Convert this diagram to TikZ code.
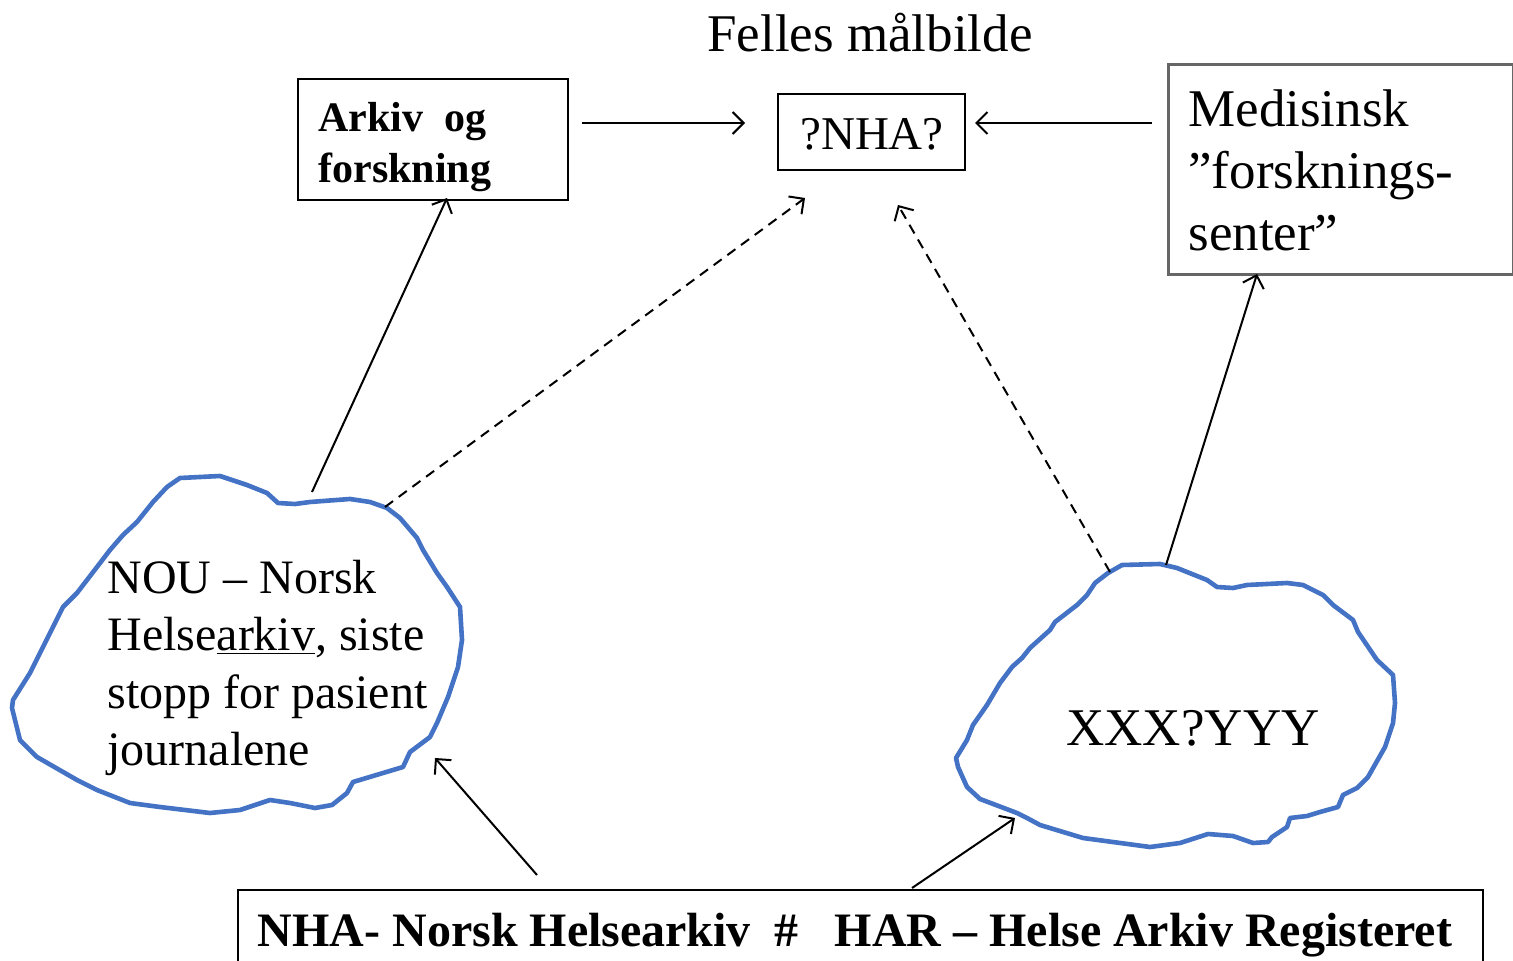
\documentclass[tikz,border=0pt]{standalone}
\usepackage{fontspec}
\setmainfont{Liberation Serif}
\usetikzlibrary{arrows.meta}
\definecolor{cloudblue}{RGB}{68,114,196}
\newcommand\fsbig{\fontsize{26.5}{28.75}\selectfont}
\newcommand\fscloud{\fontsize{24}{28.75}\selectfont}
\newcommand\fsmed{\fontsize{26.5}{31}\selectfont}
\newcommand\fsbox{\fontsize{21}{25.5}\selectfont\bfseries}
\begin{document}
\begin{tikzpicture}[x=0.5pt,y=-0.5pt,
  conn/.style={line width=1pt,-{Straight Barb[length=5.5pt,width=11pt,line width=1pt]}},
  dconn/.style={conn,dash pattern=on 5pt off 3.5pt},
  box/.style={draw,line width=0.9pt,inner sep=0pt,anchor=north west},
  greybox/.style={box,draw=black!60,line width=1.6pt},
  cloudline/.style={draw=cloudblue,line width=2.3pt,line join=round},
  txt/.style={inner sep=0pt,anchor=base west}]
\clip (0,0) rectangle (1513,961);
\fill[white] (0,0) rectangle (1513,961);

% title
\node[inner sep=0pt,anchor=base] (title) at (870,52) {\fsbig Felles målbilde};

% boxes
\node[box,minimum width=135pt,minimum height=60.5pt] (arkiv) at (297,78) {};
\node[txt] (arkivtxt) at (318,132) {\fsbox\begin{tabular}[t]{@{}l@{}}Arkiv\ \ og\\forskning\end{tabular}};

\node[box,minimum width=93.5pt,minimum height=38pt] (nha) at (777,93) {};
\node[inner sep=0pt,anchor=base] (nhatxt) at (872,150) {\fontsize{23.5}{26}\selectfont ?NHA?};

\node[greybox,minimum width=172.5pt,minimum height=105pt] (med) at (1167,63) {};
\node[txt] (medtxt) at (1188,127) {\fsmed\begin{tabular}[t]{@{}l@{}}Medisinsk\\”forsknings-\\senter”\end{tabular}};

\node[box,minimum width=622.5pt,minimum height=50pt] (bottom) at (237,889) {};
\node[inner sep=0pt,anchor=base] (bottomtxt) at (855,946) {\resizebox{597pt}{\height}{\fontsize{24}{28}\selectfont\bfseries NHA- Norsk Helsearkiv\ \ \#\ \ \ HAR – Helse Arkiv Registeret}};

% left cloud
\draw[cloudline] (180,478) -- (220,476) -- (247,485) -- (267,493) -- (278,503) -- (295,504) -- (310,502) -- (350,499) -- (370,502) -- (387,508) -- (400,518) -- (417,538) -- (423,550) -- (437,573) -- (447,587) -- (460,607) -- (462,640) -- (458,667) -- (448,697) -- (437,723) -- (430,737) -- (410,752) -- (403,767) -- (383,773) -- (353,782) -- (347,793) -- (332,805) -- (315,808) -- (290,803) -- (270,800) -- (240,810) -- (210,813) -- (160,807) -- (130,803) -- (97,790) -- (77,780) -- (37,757) -- (20,740) -- (12,708) -- (13,700) -- (30,673) -- (43,647) -- (63,607) -- (77,593) -- (97,567) -- (110,550) -- (123,535) -- (137,522) -- (153,502) -- (167,487) -- cycle;
\node[txt] (noutxt) at (107,593) {\fscloud\begin{tabular}[t]{@{}l@{}}NOU – Norsk\\Helse\underline{arkiv}, siste\\stopp for pasient\\journalene\end{tabular}};

% right cloud
\draw[cloudline] (1122,565) -- (1160,564) -- (1177,568) -- (1197,576) -- (1207,580) -- (1217,587) -- (1233,588) -- (1247,585) -- (1287,583) -- (1303,585) -- (1323,595) -- (1333,605) -- (1353,620) -- (1358,632) -- (1377,660) -- (1393,675) -- (1395,703) -- (1393,723) -- (1385,747) -- (1368,777) -- (1357,788) -- (1343,795) -- (1338,807) -- (1320,812) -- (1307,816) -- (1290,818) -- (1287,827) -- (1272,837) -- (1268,842) -- (1253,843) -- (1233,836) -- (1208,834) -- (1180,843) -- (1150,847) -- (1083,838) -- (1040,825) -- (1027,818) -- (1017,813) -- (980,799) -- (967,787) -- (958,767) -- (956,758) -- (967,740) -- (973,725) -- (987,705) -- (1000,683) -- (1012,667) -- (1022,658) -- (1030,648) -- (1050,630) -- (1055,622) -- (1077,605) -- (1087,595) -- (1095,583) -- (1108,573) -- cycle;
\node[inner sep=0pt,anchor=base] (xxxtxt) at (1193,745) {\fsbig XXX?YYY};

% connector end points
\coordinate (arkivout) at (582,123);
\coordinate (nhaw) at (745,123);
\coordinate (medout) at (1152,123);
\coordinate (nhae) at (975,123);
\coordinate (lctop) at (312,492);
\coordinate (arkivin) at (447,198);
\coordinate (lcright) at (385,507);
\coordinate (nhasw) at (805,198);
\coordinate (rctop) at (1110,572);
\coordinate (nhase) at (898,205);
\coordinate (rctop2) at (1166,565);
\coordinate (medin) at (1257,274);
\coordinate (botl) at (537,875);
\coordinate (lcin) at (435,758);
\coordinate (botr) at (912,888);
\coordinate (rcin) at (1015,818);

\draw[conn] (arkivout) -- (nhaw);
\draw[conn] (medout) -- (nhae);
\draw[conn] (lctop) -- (arkivin);
\draw[dconn] (lcright) -- (nhasw);
\draw[dconn] (rctop) -- (nhase);
\draw[conn] (rctop2) -- (medin);
\draw[conn] (botl) -- (lcin);
\draw[conn] (botr) -- (rcin);
\end{tikzpicture}
\end{document}
